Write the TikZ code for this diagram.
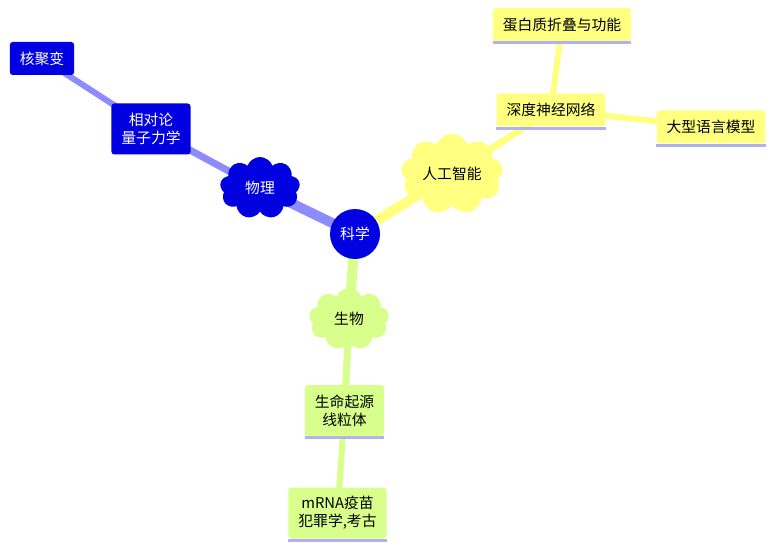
\documentclass[tikz,border=0pt]{standalone}
\usepackage{fontspec}
\setmainfont{Noto Sans CJK SC}
\usetikzlibrary{shapes.symbols,backgrounds}
\definecolor{mblue}{RGB}{0,0,224}
\definecolor{lblue}{RGB}{140,140,255}
\definecolor{myellow}{RGB}{255,255,128}
\definecolor{mgreen}{RGB}{216,255,140}
\definecolor{lav}{RGB}{176,176,245}
\tikzset{
  txt/.style={font=\fontsize{14.8}{18}\selectfont, align=center},
  rootnode/.style={txt, circle, fill=mblue, text=white, minimum size=50pt, inner sep=0pt},
  cloudnode/.style={txt, cloud, cloud puffs=9, cloud puff arc=140, aspect=1.3, inner sep=0pt},
  boxnode/.style={txt, rectangle, rounded corners=3pt, inner xsep=10pt, inner ysep=0pt},
  onebox/.style={boxnode, minimum height=33pt},
  twobox/.style={boxnode, minimum height=51pt},
  underline/.style={append after command={\pgfextra{\draw[lav, line width=3pt] ([yshift=-1.5pt]\tikzlastnode.south west) -- ([yshift=-1.5pt]\tikzlastnode.south east);}}},
  ybox/.style={fill=myellow, underline},
  gbox/.style={fill=mgreen, underline},
  bbox/.style={fill=mblue, text=white},
  conn/.style={line width=#1},
}
\begin{document}
\begin{tikzpicture}[x=1pt,y=-1pt]
\useasboundingbox (0,0) rectangle (784,556);
\node[rootnode] (sci) at (355,234) {科学};
\node[cloudnode, fill=mblue, text=white, minimum width=80pt, minimum height=62pt] (phy) at (260,188) {物理};
\node[twobox, bbox] (rel) at (151,129) {相对论\\量子力学};
\node[onebox, bbox] (fus) at (42,58.5) {核聚变};
\node[cloudnode, fill=myellow, minimum width=102pt, minimum height=74pt] (ai) at (452,174) {人工智能};
\node[onebox, ybox] (dnn) at (551,110) {深度神经网络};
\node[onebox, ybox] (prot) at (562,24.5) {蛋白质折叠与功能};
\node[onebox, ybox] (llm) at (711,127) {大型语言模型};
\node[cloudnode, fill=mgreen, minimum width=80pt, minimum height=62pt] (bio) at (349,319) {生物};
\node[twobox, gbox] (orig) at (344.5,410.5) {生命起源\\线粒体};
\node[twobox, gbox] (mrna) at (337.5,513) {mRNA疫苗\\犯罪学,考古};
\begin{pgfonlayer}{background}
\draw[lblue, conn=10pt] (sci.center) -- (phy.center);
\draw[lblue, conn=7pt] (phy.center) -- (rel.center);
\draw[lblue, conn=6pt] (rel.center) -- (fus.center);
\draw[myellow, conn=10pt] (sci.center) -- (ai.center);
\draw[myellow, conn=7pt] (ai.center) -- (dnn.center);
\draw[myellow, conn=6pt] (dnn.center) -- (prot.center);
\draw[myellow, conn=6pt] (dnn.center) -- (llm.center);
\draw[mgreen, conn=10pt] (sci.center) -- (bio.center);
\draw[mgreen, conn=7pt] (bio.center) -- (orig.center);
\draw[mgreen, conn=6pt] (orig.center) -- (mrna.center);
\end{pgfonlayer}
\end{tikzpicture}
\end{document}
